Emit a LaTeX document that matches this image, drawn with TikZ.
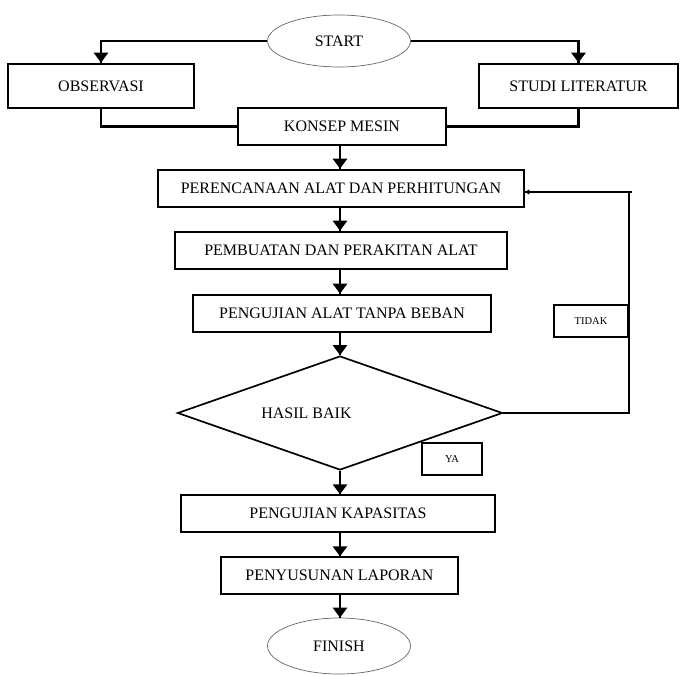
\documentclass[tikz,border=0pt]{standalone}
\usepackage{fontspec}
\setmainfont{Liberation Serif}
\usetikzlibrary{arrows.meta}
\usetikzlibrary{decorations.markings}
\usetikzlibrary{shapes.geometric}
\tikzset{->/.style = {decoration={markings,
                                  mark=at position 1 with {\arrow{Triangle[width=14pt,length=10pt]}}},
                      postaction={decorate}}}
\tikzset{back->/.style = {decoration={markings,
                                  mark=at position 1 with {\arrow{Triangle[width=5pt,length=4pt]}}},
                      postaction={decorate}}}
\tikzset{stepbox/.style = {draw, line width=2.6pt, inner sep=0pt,
                           font=\fontsize{16}{18}\selectfont},
         thinbox/.style = {stepbox, line width=1.3pt},
         terminal/.style = {ellipse, draw=gray!80!black, line width=0.7pt, inner sep=0pt,
                            font=\fontsize{16}{18}\selectfont},
         tag/.style = {draw, inner sep=0pt, font=\fontsize{10.5}{12}\selectfont},
         flow/.style = {line width=2.8pt}}

\begin{document}
\begin{tikzpicture}[x=1pt, y=-1pt]
    \useasboundingbox (0, 0) rectangle (683, 675);

    \node [terminal, minimum width=143, minimum height=52] (start) at (339, 41) {START};
    \node [stepbox, minimum width=186, minimum height=44] (obs) at (101, 86) {OBSERVASI};
    \node [stepbox, minimum width=199, minimum height=44] (studi) at (578.5, 86) {STUDI LITERATUR};
    \node [stepbox, minimum width=208, minimum height=37] (konsep) at (342, 126.5) {KONSEP MESIN};
    \node [stepbox, minimum width=366, minimum height=37] (rencana) at (341, 188.5) {PERENCANAAN ALAT DAN PERHITUNGAN};
    \node [stepbox, minimum width=332, minimum height=37] (buat) at (341, 250.5) {PEMBUATAN DAN PERAKITAN ALAT};
    \node [stepbox, minimum width=298, minimum height=37] (uji) at (342, 313.5) {PENGUJIAN ALAT TANPA BEBAN};
    \node [diamond, draw, line width=1.7pt, inner sep=0pt, minimum width=325, minimum height=114] (hasil) at (340, 413) {};
    \node [font=\fontsize{16}{18}\selectfont] (hasiltext) at (306.5, 413) {HASIL BAIK};
    \node [tag, line width=2.4pt, minimum width=74, minimum height=32] (tidak) at (591, 321) {TIDAK};
    \node [tag, line width=2pt, minimum width=60, minimum height=32] (ya) at (452, 459) {YA};
    \node [thinbox, minimum width=314, minimum height=37] (kapasitas) at (338, 513.5) {PENGUJIAN KAPASITAS};
    \node [thinbox, minimum width=237, minimum height=37] (susun) at (339.5, 575.5) {PENYUSUNAN LAPORAN};
    \node [terminal, minimum width=143, minimum height=56] (finish) at (339, 646) {FINISH};

    \coordinate (axis) at (340, 0);
    \coordinate (back) at (629, 192);

    \draw [flow, ->] (start.west) -| (obs.north);
    \draw [flow, ->] (start.east) -| (studi.north);
    \draw [flow] (obs.south) |- (konsep.west);
    \draw [flow] (studi.south) |- (konsep.east);
    \draw [flow, ->] (konsep.south -| axis) -- (rencana.north -| axis);
    \draw [flow, ->] (rencana.south -| axis) -- (buat.north -| axis);
    \draw [flow, ->] (buat.south -| axis) -- (uji.north -| axis);
    \draw [flow, ->] (uji.south -| axis) -- (hasil.north);
    \draw [flow, ->] (hasil.south) -- (kapasitas.north -| axis);
    \draw [flow, ->] (kapasitas.south -| axis) -- (susun.north -| axis);
    \draw [flow, ->] (susun.south -| axis) -- (finish.north -| axis);
    \draw [line width=1.3pt] (hasil.east) -| (back);
    \draw [flow, back->] ([xshift=3pt]back) -- (rencana.east |- back);
\end{tikzpicture}
\end{document}
